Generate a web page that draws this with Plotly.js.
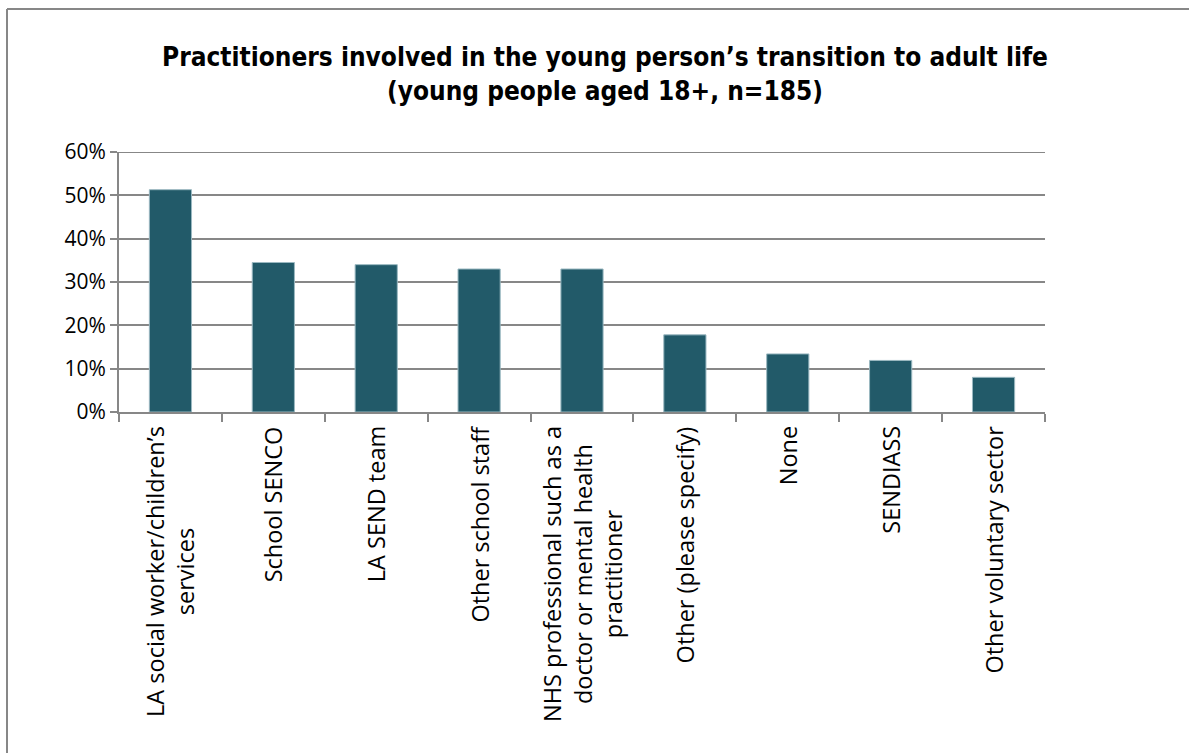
<!DOCTYPE html>
<html>
<head>
<meta charset="utf-8">
<script src="https://cdn.plot.ly/plotly-3.0.1.min.js"></script>
<style>
html,body{margin:0;padding:0;background:#fff;}
#chart{width:1189px;height:753px;}
</style>
</head>
<body>
<div id="chart"></div>
<script>
var categories = [
  "LA social worker/children\u2019s<br>services",
  "School SENCO",
  "LA SEND team",
  "Other school staff",
  "NHS professional such as a<br>doctor or mental health<br>practitioner",
  "Other (please specify)",
  "None",
  "SENDIASS",
  "Other voluntary sector"
];
var values = [0.513, 0.345, 0.340, 0.330, 0.330, 0.178, 0.134, 0.119, 0.080];
var yTickVals = [0, 0.1, 0.2, 0.3, 0.4, 0.5, 0.6];
var yTickText = ["0%", "10%", "20%", "30%", "40%", "50%", "60%"];
var titleText = "Practitioners involved in the young person\u2019s transition to adult life<br>(young people aged 18+, n=185)";

var L = 119, R = 1045, T = 152, B = 412, W = 1189, H = 753;
function px2x(p){ return (p - L) / (R - L); }
function py2y(p){ return (B - p) / (B - T); }

var trace = {
  type: "bar",
  x: categories,
  y: values,
  marker: { color: "#225a69", line: { color: "#9ab8c1", width: 1 } },
  hoverinfo: "none"
};

var annotations = categories.map(function(c){
  return {
    x: c, xref: "x", y: 0, yref: "paper", yanchor: "top", xanchor: "center",
    yshift: -12, text: c, textangle: -90, showarrow: false, align: "center",
    font: { family: "Open Sans, sans-serif", size: 23.5, color: "#000" }
  };
});

var gray = "#878787";
var layout = {
  width: W, height: H,
  margin: { l: L, r: W - R, t: T, b: H - B, pad: 0 },
  paper_bgcolor: "#fff", plot_bgcolor: "#fff",
  showlegend: false,
  bargap: 0.59,
  title: {
    text: titleText,
    x: 605 / W, xanchor: "center", xref: "container",
    y: 1 - 66 / H, yanchor: "top", yref: "container",
    font: { family: "Liberation Sans Narrow, DejaVu Sans Condensed, Open Sans, sans-serif", size: 26, color: "#000", weight: "bold" }
  },
  xaxis: {
    type: "category",
    showticklabels: false,
    showline: true, linecolor: gray, linewidth: 2,
    ticks: "outside", tickson: "boundaries", ticklen: 8, tickcolor: gray, tickwidth: 2,
    showgrid: false, zeroline: false, fixedrange: true
  },
  yaxis: {
    range: [0, 0.6],
    tickvals: yTickVals, ticktext: yTickText,
    showline: true, linecolor: gray, linewidth: 2,
    ticks: "outside", ticklen: 7, tickcolor: gray, tickwidth: 2,
    showgrid: true, gridcolor: gray, gridwidth: 2,
    zeroline: false, fixedrange: true,
    tickfont: { family: "Open Sans, sans-serif", size: 21, color: "#000" }
  },
  annotations: annotations,
  shapes: [
    { type: "line", xref: "paper", yref: "y", x0: 0, x1: 1, y0: 0.6, y1: 0.6, line: { color: gray, width: 2 } },
    { type: "line", xref: "paper", yref: "paper", x0: px2x(7), x1: px2x(W + 20), y0: py2y(9), y1: py2y(9), line: { color: gray, width: 2 } },
    { type: "line", xref: "paper", yref: "paper", x0: px2x(7), x1: px2x(7), y0: py2y(9), y1: py2y(H + 20), line: { color: gray, width: 2 } }
  ]
};

Plotly.newPlot("chart", [trace], layout, { displayModeBar: false, staticPlot: true });
</script>
</body>
</html>
